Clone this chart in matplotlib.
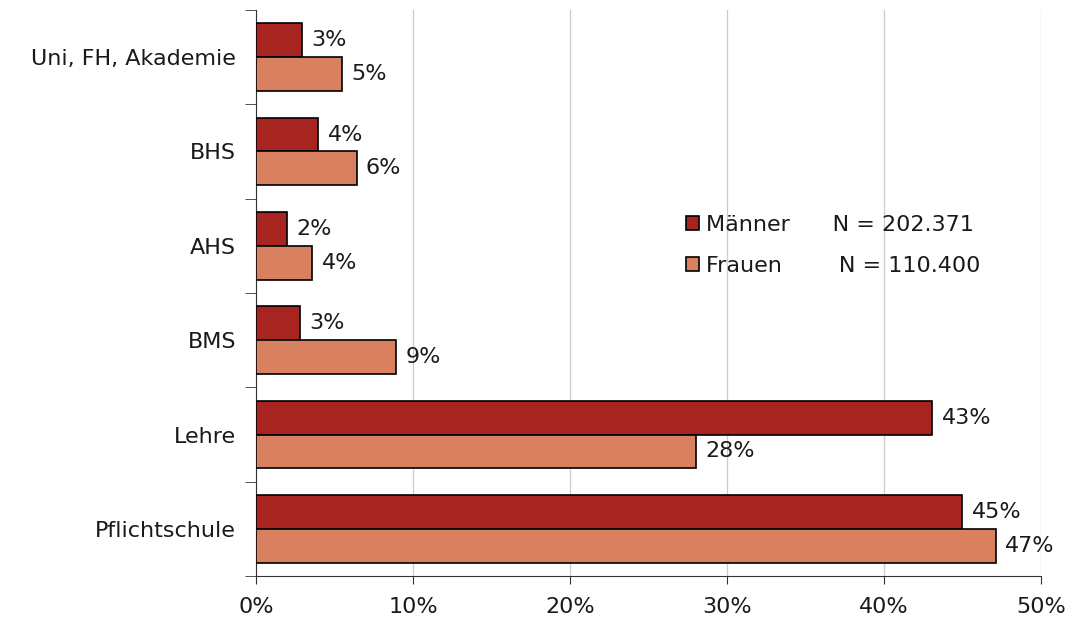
import matplotlib.pyplot as plt
import numpy as np

# data
categories = ["Pflichtschule", "Lehre", "BMS", "AHS", "BHS", "Uni, FH, Akademie"]
maenner = [44.97, 43.06, 2.8, 1.97, 3.95, 2.93]
frauen = [47.13, 28.0, 8.9, 3.57, 6.4, 5.48]
series_names = ["Männer      N = 202.371", "Frauen        N = 110.400"]
xticks = [0, 10, 20, 30, 40, 50]

c_m = "#A82421"
c_f = "#D88060"
fs = 16

plt.rcParams['font.family'] = ['DejaVu Sans']

fig = plt.figure(figsize=(10.74, 6.23), dpi=100)
ax = fig.add_axes([0.2384, 0.0754, 0.7309, 0.9086])

y = np.arange(len(categories))
h = 0.36
ax.barh(y + h / 2, maenner, height=h, color=c_m, edgecolor="black", linewidth=1.2,
        label=series_names[0], zorder=3)
ax.barh(y - h / 2, frauen, height=h, color=c_f, edgecolor="black", linewidth=1.2,
        label=series_names[1], zorder=3)

for i in range(len(categories)):
    ax.text(maenner[i] + 0.6, y[i] + h / 2, f"{round(maenner[i])}%", va="center",
            ha="left", fontsize=fs, color="#1a1a1a")
    ax.text(frauen[i] + 0.6, y[i] - h / 2, f"{round(frauen[i])}%", va="center",
            ha="left", fontsize=fs, color="#1a1a1a")

ax.set_xlim(0, 50)
ax.set_ylim(-0.5, len(categories) - 0.5)
ax.set_xticks(xticks)
ax.set_xticklabels([f"{t}%" for t in xticks], fontsize=fs, color="#1a1a1a")
ax.set_yticks(y)
ax.set_yticklabels(categories, fontsize=fs, color="#1a1a1a")
ax.set_yticks(np.arange(-0.5, len(categories), 1), minor=True)
ax.tick_params(axis="y", which="major", length=0, pad=14.5)
ax.tick_params(axis="y", which="minor", length=8, color="#333333")
ax.tick_params(axis="x", length=6, color="#333333", pad=9)

ax.grid(axis="x", color="#cccccc", linewidth=0.9, zorder=0)
for s in ["top", "right"]:
    ax.spines[s].set_visible(False)
ax.spines["left"].set_color("#333333")
ax.spines["bottom"].set_color("#333333")

leg = ax.legend(loc="center left", bbox_to_anchor=(0.522, 0.584), frameon=False,
                fontsize=fs, handlelength=0.6, handleheight=0.6, handletextpad=0.3,
                labelspacing=0.95)
for t in leg.get_texts():
    t.set_color("#1a1a1a")

fig.savefig("out.png", dpi=100)
